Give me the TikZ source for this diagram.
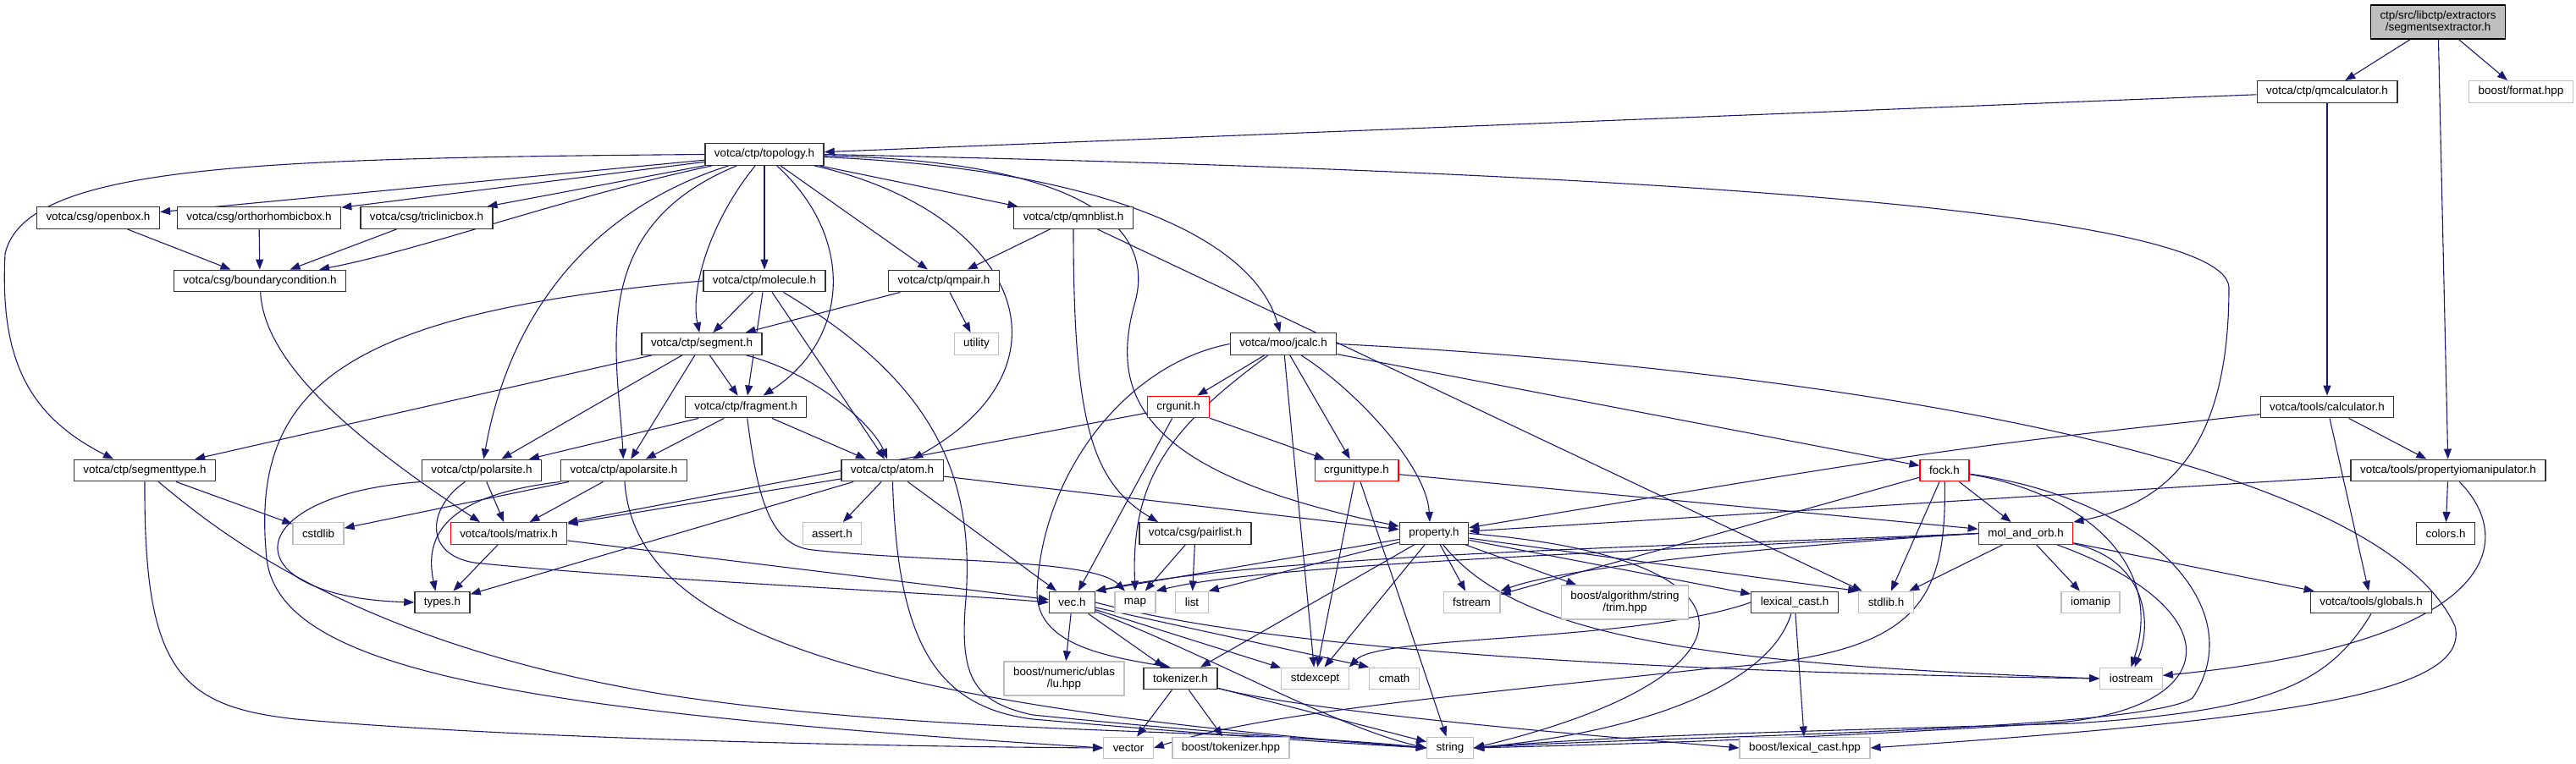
\documentclass[tikz,border=0pt]{standalone}
\usepackage{fontspec}
\setmainfont{Liberation Sans}
\usetikzlibrary{arrows.meta,backgrounds}
\definecolor{enlace}{RGB}{25,25,112}
\definecolor{gris}{RGB}{191,191,191}

\begin{document}
\begin{tikzpicture}[
    x=50pt, y=50pt,
    % Estilos de las cajas (como en el grafo de doxygen)
    fichero/.style={rectangle, draw=black!80, line width=0.65pt, fill=white, inner xsep=5.5pt, inner ysep=0pt, minimum height=12.8pt, font=\fontsize{6.7pt}{7.4pt}\selectfont},
    externo/.style={fichero, draw=gris},
    truncado/.style={fichero, draw=red},
    raiz/.style={fichero, fill=gris, draw=black, align=center, minimum height=20pt},
    doslineas/.style={align=center, minimum height=20pt},
    dep/.style={-{Triangle[length=6pt,width=4.5pt]}, draw=enlace, line width=0.55pt}
]
\useasboundingbox (0,0) rectangle (30.43,-9.03);

% --- RAIZ ---
\node[raiz] (root) at (28.80,-0.26) {ctp/src/libctp/extractors\\/segmentsextractor.h};
\node[fichero] (qmcalc) at (27.49,-1.085) {votca/ctp/qmcalculator.h};
\node[externo] (fmt) at (29.78,-1.085) {boost/format.hpp};

% --- TOPOLOGIA ---
\node[fichero] (topo) at (9.03,-1.825) {votca/ctp/topology.h};
\node[fichero] (openbox) at (1.16,-2.575) {votca/csg/openbox.h};
\node[fichero] (orthobox) at (3.06,-2.575) {votca/csg/orthorhombicbox.h};
\node[fichero] (triclbox) at (5.04,-2.575) {votca/csg/triclinicbox.h};
\node[fichero] (qmnb) at (12.68,-2.575) {votca/ctp/qmnblist.h};
\node[fichero] (bcond) at (3.07,-3.32) {votca/csg/boundarycondition.h};
\node[fichero] (molec) at (9.03,-3.32) {votca/ctp/molecule.h};
\node[fichero] (qmpair) at (11.15,-3.32) {votca/ctp/qmpair.h};
\node[fichero] (segm) at (8.29,-4.065) {votca/ctp/segment.h};
\node[externo] (utility) at (11.535,-4.065) {utility};
\node[fichero] (jcalc) at (15.16,-4.065) {votca/moo/jcalc.h};
\node[fichero] (frag) at (8.81,-4.81) {votca/ctp/fragment.h};
\node[truncado] (crgunit) at (13.92,-4.81) {crgunit.h};
\node[fichero] (calc) at (27.49,-4.81) {votca/tools/calculator.h};

% --- SITIOS Y ATOMOS ---
\node[fichero] (segtype) at (1.71,-5.56) {votca/ctp/segmenttype.h};
\node[fichero] (polar) at (5.69,-5.56) {votca/ctp/polarsite.h};
\node[fichero] (apolar) at (7.37,-5.56) {votca/ctp/apolarsite.h};
\node[fichero] (atom) at (10.54,-5.56) {votca/ctp/atom.h};
\node[truncado] (crgtype) at (16.025,-5.56) {crgunittype.h};
\node[truncado] (fock) at (22.97,-5.56) {fock.h};
\node[fichero] (propio) at (28.92,-5.56) {votca/tools/propertyiomanipulator.h};

\node[externo] (cstdlib) at (3.76,-6.305) {cstdlib};
\node[truncado] (matrix) at (6.01,-6.305) {votca/tools/matrix.h};
\node[externo] (assert) at (9.83,-6.305) {assert.h};
\node[fichero] (pairlist) at (14.12,-6.305) {votca/csg/pairlist.h};
\node[fichero] (prop) at (16.94,-6.305) {property.h};
\node[truncado] (molorb) at (23.93,-6.305) {mol\_and\_orb.h};
\node[fichero] (colors) at (28.89,-6.305) {colors.h};

% --- CABECERAS DE ABAJO ---
\node[fichero] (types) at (5.225,-7.12) {types.h};
\node[fichero] (vec) at (12.665,-7.12) {vec.h};
\node[externo] (map) at (13.41,-7.12) {map};
\node[externo] (list) at (14.08,-7.12) {list};
\node[externo] (fstream) at (17.385,-7.12) {fstream};
\node[externo, doslineas] (trim) at (19.195,-7.12) {boost/algorithm/string\\/trim.hpp};
\node[fichero] (lexcast) at (21.20,-7.12) {lexical\_cast.h};
\node[externo] (stdlibh) at (22.28,-7.12) {stdlib.h};
\node[externo] (iomanip) at (24.695,-7.12) {iomanip};
\node[fichero] (globals) at (28.01,-7.12) {votca/tools/globals.h};

\node[externo, doslineas] (ublas) at (12.57,-8.02) {boost/numeric/ublas\\/lu.hpp};
\node[fichero] (tokenizer) at (13.945,-8.02) {tokenizer.h};
\node[externo] (stdexcept) at (15.535,-8.02) {stdexcept};
\node[externo] (cmath) at (16.47,-8.02) {cmath};
\node[externo] (iostream) at (25.175,-8.02) {iostream};

\node[externo] (vector) at (13.33,-8.84) {vector};
\node[externo] (btok) at (14.54,-8.84) {boost/tokenizer.hpp};
\node[externo] (string) at (17.13,-8.84) {string};
\node[externo] (blex) at (21.32,-8.84) {boost/lexical\_cast.hpp};

\begin{scope}[on background layer]
% --- FLECHAS DESDE LA RAIZ ---
\draw[dep] (root) -- (qmcalc);
\draw[dep] (root) -- (fmt);
\draw[dep] (root) -- (propio);
\draw[dep] (qmcalc) -- (topo);
\draw[dep] (qmcalc) -- (calc);

% --- topology.h ---
\draw[dep] (topo) -- (openbox);
\draw[dep] (topo) -- (orthobox);
\draw[dep] (topo) -- (triclbox);
\draw[dep] (topo) .. controls (6.6,-2.35) and (5.0,-2.95) .. (bcond);
\draw[dep] (topo.west) .. controls (3.0,-1.87) and (0.3,-1.95) .. (0.06,-3.0) .. controls (0.0,-4.2) and (0.3,-4.9) .. ([xshift=-18.5pt]segtype.north);
\draw[dep] (topo) .. controls (6.9,-2.5) and (6.0,-3.8) .. (polar);
\draw[dep] (topo) .. controls (6.9,-2.7) and (7.3,-4.2) .. (apolar);
\draw[dep] (topo) -- (molec);
\draw[dep] (topo) .. controls (8.4,-2.6) and (8.15,-3.4) .. (segm);
\draw[dep] (topo) .. controls (10.1,-2.8) and (10.05,-4.0) .. (frag);
\draw[dep] (topo) -- (qmpair);
\draw[dep] (topo) -- (qmnb);
\draw[dep] (topo) .. controls (12.0,-2.5) and (12.8,-4.3) .. (atom);
\draw[dep] (topo) .. controls (13.0,-2.0) and (14.8,-2.8) .. (jcalc);
\draw[dep] (topo) .. controls (12.6,-1.9) and (13.7,-2.6) .. (13.4,-3.6) .. controls (13.1,-4.7) and (13.5,-5.6) .. (prop);
\draw[dep] (topo.east) .. controls (18.0,-2.0) and (26.3,-2.4) .. (26.33,-3.4) .. controls (26.33,-5.3) and (25.6,-5.95) .. (molorb.north east);

% --- qmnblist.h y cajas ---
\draw[dep] (qmnb) -- (qmpair);
\draw[dep] (qmnb.south) .. controls (12.68,-5.0) and (12.9,-5.7) .. ([xshift=-22pt]pairlist.north);
\draw[dep] (qmnb) -- (stdlibh);
\draw[dep] (openbox) -- (bcond);
\draw[dep] (orthobox) -- (bcond);
\draw[dep] (triclbox) -- (bcond);
\draw[dep] (bcond) .. controls (3.12,-4.3) and (4.2,-5.2) .. ([xshift=-17pt]matrix.north);

% --- molecule.h, qmpair.h, segment.h ---
\draw[dep] (molec) -- (segm);
\draw[dep] (molec) -- (frag);
\draw[dep] (molec) -- (atom);
\draw[dep] (molec.west) .. controls (4.0,-3.7) and (2.95,-4.6) .. (3.15,-6.6) .. controls (3.3,-7.9) and (6.0,-8.4) .. (vector.west);
\draw[dep] (molec) .. controls (11.0,-4.5) and (11.55,-5.6) .. (11.4,-7.2) .. controls (11.35,-8.0) and (11.5,-8.3) .. (12.2,-8.45) .. controls (14.5,-8.68) and (15.8,-8.75) .. (string.west);
\draw[dep] (qmpair) -- (segm);
\draw[dep] (qmpair) -- (utility);
\draw[dep] (segm) -- (segtype);
\draw[dep] (segm) -- (polar);
\draw[dep] (segm) -- (apolar);
\draw[dep] (segm) -- (frag);
\draw[dep] (segm) .. controls (9.6,-4.4) and (10.3,-5.0) .. (atom);

% --- fragment.h, polarsite.h, apolarsite.h ---
\draw[dep] (frag) -- (polar);
\draw[dep] (frag) -- (apolar);
\draw[dep] (frag) -- (atom);
\draw[dep] (frag) .. controls (8.95,-5.9) and (9.1,-6.45) .. (9.6,-6.5) .. controls (11,-6.65) and (12.9,-6.6) .. ([xshift=-6pt]map.north);
\draw[dep] (polar) -- (matrix);
\draw[dep] (polar.south west) .. controls (2.8,-5.85) and (2.7,-7.05) .. (types.west);
\draw[dep] (polar) .. controls (5.05,-6.0) and (5.0,-6.55) .. (5.6,-6.65) .. controls (7.5,-6.85) and (11,-7.0) .. (vec.west);
\draw[dep] (apolar) -- (matrix);
\draw[dep] (apolar) -- (cstdlib);
\draw[dep] (apolar.south west) .. controls (5.3,-5.85) and (5.0,-6.3) .. ([xshift=-4pt]types.north);
\draw[dep] (apolar) .. controls (7.5,-7.4) and (9.9,-8.3) .. (string.west);

% --- atom.h, crgunit.h ---
\draw[dep] (atom) -- (assert);
\draw[dep] (atom) -- (vec);
\draw[dep] (atom) -- (prop);
\draw[dep] (atom) -- (matrix);
\draw[dep] (atom) -- (types);
\draw[dep] (atom) .. controls (10.6,-7.5) and (11.0,-8.35) .. (12.2,-8.5) .. controls (14.5,-8.7) and (15.8,-8.78) .. (string.west);
\draw[dep] (crgunit) -- (crgtype);
\draw[dep] (crgunit) -- (matrix);
\draw[dep] (crgunit) -- (vec);

% --- jcalc.h ---
\draw[dep] (jcalc) -- (crgunit);
\draw[dep] (jcalc) -- (crgtype);
\draw[dep] (jcalc) .. controls (16.0,-4.6) and (16.85,-5.5) .. ([xshift=-2.5pt]prop.north);
\draw[dep] (jcalc) -- (fock);
\draw[dep] (jcalc.west) .. controls (13.3,-4.3) and (12.3,-5.6) .. (12.25,-7.0) .. controls (12.25,-7.6) and (13.0,-7.75) .. ([xshift=-6pt]tokenizer.north);
\draw[dep] (jcalc) .. controls (13.9,-5.0) and (13.35,-5.6) .. (map.north);
\draw[dep] (jcalc) -- (stdexcept);
\draw[dep] (jcalc.east) .. controls (20.5,-4.3) and (28.0,-5.2) .. (29.0,-7.4) .. controls (29.2,-8.2) and (27,-8.5) .. (blex.east);

% --- crgunittype.h, calculator.h, propertyiomanipulator.h ---
\draw[dep] (crgtype) -- (stdexcept);
\draw[dep] (crgtype) -- (string);
\draw[dep] (crgtype) -- (molorb);
\draw[dep] (calc) -- (propio);
\draw[dep] (calc) .. controls (23.0,-5.3) .. (prop);
\draw[dep] (calc) -- (globals);
\draw[dep] (propio) -- (prop);
\draw[dep] (propio) -- (colors);
\draw[dep] (propio) .. controls (29.75,-6.4) and (29.5,-7.6) .. (iostream);

% --- fock.h, mol_and_orb.h ---
\draw[dep] (fock) -- (fstream);
\draw[dep] (fock) -- (molorb);
\draw[dep] (fock) -- (stdlibh);
\draw[dep] (fock) .. controls (24.5,-5.8) and (25.6,-6.6) .. (iostream.north);
\draw[dep] (fock) .. controls (25.4,-5.9) and (26.6,-7.2) .. (25.9,-8.25) .. controls (25.3,-8.65) and (19.5,-8.7) .. (string.east);
\draw[dep] (fock) .. controls (23.0,-7.2) and (22.6,-7.75) .. (20.2,-7.9) .. controls (17.5,-8.2) and (15.0,-8.4) .. (vector.east);
\draw[dep] (molorb) -- (iomanip);
\draw[dep] (molorb) -- (globals);
\draw[dep] (molorb) -- (stdlibh);
\draw[dep] (molorb.west) .. controls (21,-6.45) and (18.5,-6.7) .. (fstream.north east);
\draw[dep] (molorb) .. controls (25.3,-6.6) and (25.45,-7.3) .. ([xshift=2pt]iostream.north);
\draw[dep] (molorb) .. controls (26.4,-7.2) and (26.3,-8.4) .. (24.2,-8.55) .. controls (21,-8.75) and (19,-8.8) .. (string.east);
\draw[dep] (molorb.west) .. controls (20,-6.45) and (15,-6.55) .. (vec.north east);
\draw[dep] (molorb.west) .. controls (20,-6.5) and (15,-6.65) .. (map.north east);

% --- property.h ---
\draw[dep] (prop) -- (vec.north east);
\draw[dep] (prop) -- (list.north east);
\draw[dep] (prop) -- (fstream);
\draw[dep] (prop) -- (trim);
\draw[dep] (prop) -- (lexcast);
\draw[dep] (prop) -- (stdlibh.north west);
\draw[dep] (prop) -- (stdexcept);
\draw[dep] (prop) -- (tokenizer);
\draw[dep] (prop) .. controls (17.9,-7.5) and (20.0,-7.85) .. (iostream.west);
\draw[dep] (prop.east) .. controls (21.0,-6.6) and (20.9,-8.0) .. (string.east);

% --- lexical_cast.h, vec.h, tokenizer.h ---
\draw[dep] (lexcast.west) .. controls (19.3,-7.6) and (16.3,-7.5) .. (stdexcept.north east);
\draw[dep] (lexcast) .. controls (20.9,-8.1) and (19.4,-8.65) .. (string.east);
\draw[dep] (lexcast) -- (blex);
\draw[dep] (vec) -- (ublas);
\draw[dep] (vec) -- (tokenizer);
\draw[dep] (vec) -- (stdexcept);
\draw[dep] (vec) -- (cmath.north west);
\draw[dep] (vec.east) .. controls (15.2,-7.72) and (20,-7.95) .. (iostream.west);
\draw[dep] (vec) .. controls (14.4,-7.8) and (15.8,-8.6) .. (string.west);
\draw[dep] (tokenizer) -- (vector);
\draw[dep] (tokenizer) -- (btok);
\draw[dep] (tokenizer) -- (string);
\draw[dep] (tokenizer) .. controls (15.6,-8.45) and (19.5,-8.75) .. (blex.west);

% --- resto ---
\draw[dep] (matrix) -- (types);
\draw[dep] (matrix) -- (vec);
\draw[dep] (pairlist) -- (map);
\draw[dep] (pairlist) -- (list);
\draw[dep] (globals.south) .. controls (27.5,-8.1) and (26.8,-8.4) .. (24.5,-8.55) .. controls (21,-8.65) and (19,-8.7) .. (string.east);
\draw[dep] (segtype) -- (cstdlib);
\draw[dep] (segtype.south) .. controls (1.7,-7.9) and (2.1,-8.35) .. (3.5,-8.5) .. controls (6,-8.72) and (10,-8.82) .. (vector.west);
\draw[dep] (segtype) .. controls (2.6,-6.3) and (4.2,-7.6) .. (7.8,-8.2) .. controls (11,-8.7) and (14.6,-8.6) .. (string.west);
\end{scope}

\end{tikzpicture}
\end{document}
